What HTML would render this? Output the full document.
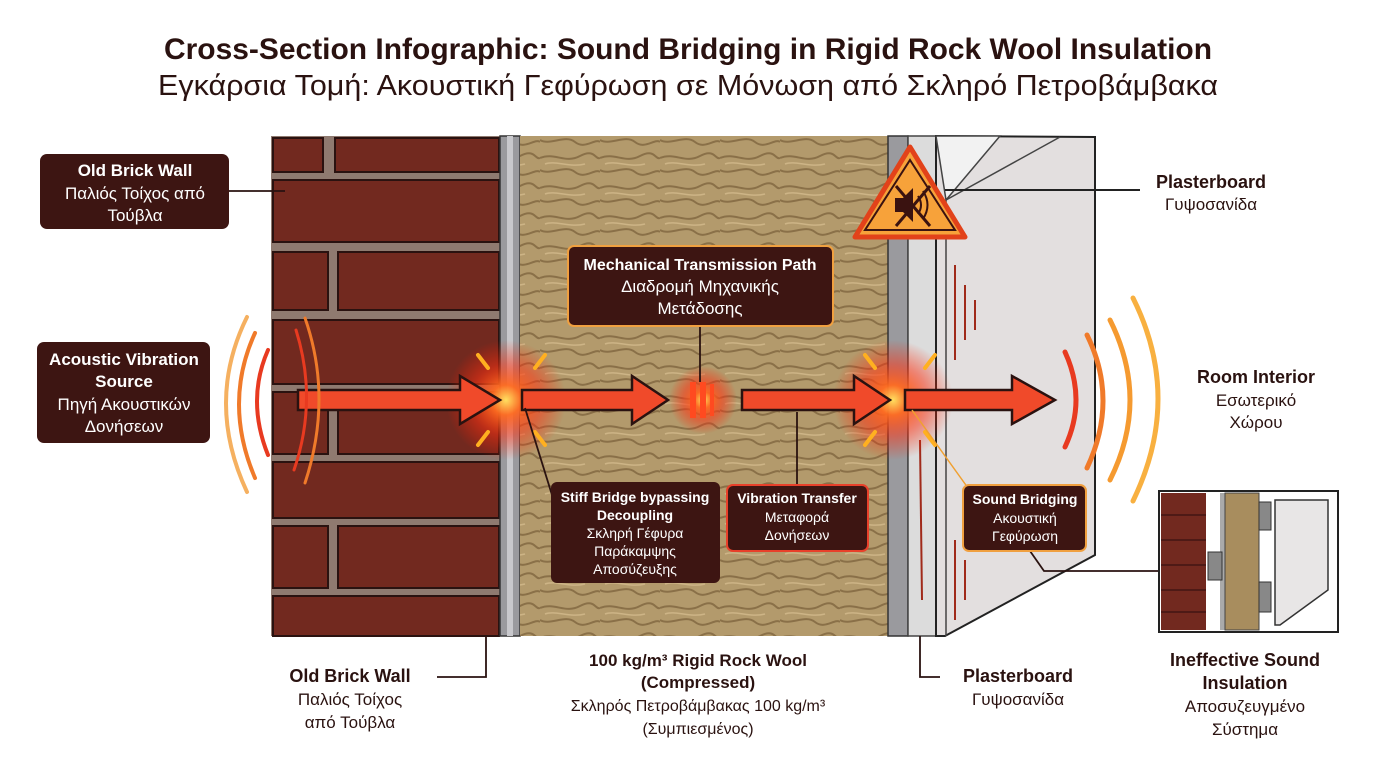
<!DOCTYPE html>
<html><head><meta charset="utf-8"><style>
body{margin:0;background:#fff}
svg{display:block}
text{font-family:"Liberation Sans",sans-serif}
</style></head><body>
<svg width="1376" height="768" viewBox="0 0 1376 768" xmlns="http://www.w3.org/2000/svg">
<defs>
<radialGradient id="glow"><stop offset="0" stop-color="#ffe060"/><stop offset="0.25" stop-color="#ff6a20" stop-opacity="0.95"/><stop offset="0.6" stop-color="#ff3010" stop-opacity="0.5"/><stop offset="1" stop-color="#ff2000" stop-opacity="0"/></radialGradient>
<pattern id="wool" width="60" height="30" patternUnits="userSpaceOnUse">
<rect width="60" height="30" fill="#b39a6c"/>
<path d="M0 8 C15 2 25 14 40 6 S55 10 60 8 M0 20 C10 26 25 14 35 22 S55 18 60 22" stroke="#8a7048" stroke-width="2" fill="none"/>
<path d="M5 14 C15 10 30 18 45 14" stroke="#cdb486" stroke-width="1.5" fill="none"/>
</pattern>
</defs>
<text x="688" y="59" text-anchor="middle" font-size="30" font-weight="bold" fill="#2a1210" textLength="1048" lengthAdjust="spacingAndGlyphs">Cross-Section Infographic: Sound Bridging in Rigid Rock Wool Insulation</text>
<text x="688" y="95" text-anchor="middle" font-size="29" fill="#2a1210" textLength="1060" lengthAdjust="spacingAndGlyphs">Εγκάρσια Τομή: Ακουστική Γεφύρωση σε Μόνωση από Σκληρό Πετροβάμβακα</text>

<!-- brick wall -->
<rect x="271" y="136" width="230" height="500" fill="#8f7a70"/>
<g fill="#72291f" stroke="#2a1210" stroke-width="2">
<rect x="273" y="138" width="50" height="34"/><rect x="335" y="138" width="164" height="34"/>
<rect x="273" y="180" width="226" height="62"/>
<rect x="273" y="252" width="55" height="58"/><rect x="338" y="252" width="161" height="58"/>
<rect x="273" y="320" width="226" height="64"/>
<rect x="273" y="392" width="55" height="62"/><rect x="338" y="392" width="161" height="62"/>
<rect x="273" y="462" width="226" height="56"/>
<rect x="273" y="526" width="55" height="62"/><rect x="338" y="526" width="161" height="62"/>
<rect x="273" y="596" width="226" height="40"/>
</g>
<rect x="500" y="136" width="20" height="500" fill="#9a9a9e" stroke="#333" stroke-width="1.5"/>
<rect x="507" y="136" width="6" height="500" fill="#c8c8cc"/>
<!-- wool -->
<rect x="520" y="136" width="368" height="500" fill="url(#wool)"/>
<!-- plaster strip -->
<rect x="888" y="136" width="20" height="500" fill="#9a9a9e" stroke="#333" stroke-width="1.5"/>
<rect x="908" y="136" width="28" height="500" fill="#dcdcdc" stroke="#444" stroke-width="1.5"/>
<!-- plasterboard panel -->
<polygon points="936,136 1095,137 1095,555 945,636 936,636" fill="#e3dfdf" stroke="#222" stroke-width="2"/>
<polygon points="936,136 1000,136 946,200" fill="#f2f2f2" stroke="#444" stroke-width="1.5"/>
<line x1="946" y1="200" x2="946" y2="636" stroke="#444" stroke-width="1.5"/>
<line x1="946" y1="200" x2="1060" y2="137" stroke="#444" stroke-width="1.5"/>
<g stroke="#a02a1a" stroke-width="2"><line x1="955" y1="265" x2="955" y2="360"/><line x1="965" y1="285" x2="965" y2="340"/><line x1="975" y1="300" x2="975" y2="330"/><line x1="955" y1="540" x2="955" y2="620"/><line x1="965" y1="560" x2="965" y2="600"/><line x1="920" y1="440" x2="922" y2="600"/></g>
<line x1="945" y1="190" x2="1140" y2="190" stroke="#222" stroke-width="2"/>

<!-- warning sign -->
<polygon points="910,147 965,237 855,237" fill="#f7a23a" stroke="#e2421a" stroke-width="5" stroke-linejoin="round"/>
<polygon points="910,160 955,230 865,230" fill="none" stroke="#3a1210" stroke-width="2"/>
<path d="M895 198 h8 l10 -10 v34 l-10 -10 h-8z" fill="#3a1210"/>
<path d="M918 196 q6 9 0 18 M923 191 q9 14 0 28" stroke="#3a1210" stroke-width="2" fill="none"/>
<line x1="896" y1="186" x2="930" y2="226" stroke="#3a1210" stroke-width="3"/><line x1="930" y1="186" x2="896" y2="226" stroke="#3a1210" stroke-width="3"/>

<!-- glows -->
<circle cx="506" cy="400" r="60" fill="url(#glow)"/>
<circle cx="893" cy="400" r="60" fill="url(#glow)"/>
<circle cx="703" cy="400" r="34" fill="url(#glow)"/>
<g stroke="#ffb020" stroke-width="4" stroke-linecap="round">
<line x1="478" y1="355" x2="488" y2="368"/><line x1="545" y1="355" x2="535" y2="368"/><line x1="478" y1="445" x2="488" y2="432"/><line x1="535" y1="432" x2="545" y2="445"/>
<line x1="865" y1="355" x2="875" y2="368"/><line x1="935" y1="355" x2="925" y2="368"/><line x1="865" y1="445" x2="875" y2="432"/><line x1="925" y1="432" x2="935" y2="445"/>
</g>
<g fill="#ff4a20"><rect x="690" y="382" width="6" height="36"/><rect x="700" y="382" width="6" height="36"/><rect x="710" y="384" width="4" height="32"/></g>

<!-- arrows -->
<g fill="#f04a2a" stroke="#2a1210" stroke-width="2.5" stroke-linejoin="miter">
<polygon points="298,390 460,390 460,376 500,400 460,424 460,410 298,410"/>
<polygon points="522,390 632,390 632,376 668,400 632,424 632,410 522,410"/>
<polygon points="742,390 854,390 854,376 890,400 854,424 854,410 742,410"/>
<polygon points="905,390 1012,390 1012,376 1055,400 1012,424 1012,410 905,410"/>
</g>

<!-- sound waves -->
<g fill="none" stroke-linecap="round" stroke-width="4">
<path d="M268 350 q-22 50 0 105" stroke="#e83a20"/>
<path d="M255 333 q-32 70 0 145" stroke="#f07a2a"/>
<path d="M247 317 q-42 85 0 175" stroke="#f5b060"/>
<path d="M296 330 q22 70 -2 140" stroke="#e83a20" stroke-width="3"/>
<path d="M305 318 q28 80 0 165" stroke="#f07a2a" stroke-width="3"/>
<path d="M1065 352 q22 48 0 95" stroke="#e83a20" stroke-width="5"/>
<path d="M1087 335 q32 65 0 133" stroke="#f07a2a" stroke-width="5"/>
<path d="M1133 298 q50 100 0 203" stroke="#f8b040" stroke-width="5"/>
<path d="M1110 320 q40 80 0 160" stroke="#f59a30" stroke-width="5"/>
</g>

<!-- leader lines -->
<g stroke="#2a1210" stroke-width="1.8" fill="none">
<line x1="229" y1="191" x2="285" y2="191"/>
<line x1="700" y1="326" x2="700" y2="382"/>
<line x1="797" y1="412" x2="797" y2="485"/>
<line x1="525" y1="408" x2="552" y2="495"/>
<polyline points="1030,551 1044,571 1158,571"/>
<polyline points="437,677 486,677 486,636"/>
<polyline points="940,677 920,677 920,636"/>
</g>
<line x1="912" y1="410" x2="968" y2="488" stroke="#f0a030" stroke-width="1.5"/>

<!-- boxes -->
<g>
<rect x="40" y="154" width="189" height="75" rx="7" fill="#3d1512"/>
<text x="135" y="176" text-anchor="middle" font-size="17" font-weight="bold" fill="#fff">Old Brick Wall</text>
<text x="135" y="199" text-anchor="middle" font-size="17" fill="#fff">Παλιός Τοίχος από</text>
<text x="135" y="221" text-anchor="middle" font-size="17" fill="#fff">Τούβλα</text>

<rect x="37" y="342" width="173" height="101" rx="7" fill="#3d1512"/>
<text x="124" y="365" text-anchor="middle" font-size="17" font-weight="bold" fill="#fff">Acoustic Vibration</text>
<text x="124" y="387" text-anchor="middle" font-size="17" font-weight="bold" fill="#fff">Source</text>
<text x="124" y="410" text-anchor="middle" font-size="17" fill="#fff">Πηγή Ακουστικών</text>
<text x="124" y="432" text-anchor="middle" font-size="17" fill="#fff">Δονήσεων</text>

<rect x="568" y="246" width="265" height="80" rx="6" fill="#3d1512" stroke="#f0a040" stroke-width="2"/>
<text x="700" y="270" text-anchor="middle" font-size="16" font-weight="bold" fill="#fff">Mechanical Transmission Path</text>
<text x="700" y="292" text-anchor="middle" font-size="17" fill="#fff">Διαδρομή Μηχανικής</text>
<text x="700" y="314" text-anchor="middle" font-size="17" fill="#fff">Μετάδοσης</text>

<rect x="551" y="482" width="169" height="101" rx="6" fill="#3d1512"/>
<text x="635" y="502" text-anchor="middle" font-size="14" font-weight="bold" fill="#fff">Stiff Bridge bypassing</text>
<text x="635" y="520" text-anchor="middle" font-size="14" font-weight="bold" fill="#fff">Decoupling</text>
<text x="635" y="538" text-anchor="middle" font-size="14" fill="#fff">Σκληρή Γέφυρα</text>
<text x="635" y="556" text-anchor="middle" font-size="14" fill="#fff">Παράκαμψης</text>
<text x="635" y="574" text-anchor="middle" font-size="14" fill="#fff">Αποσύζευξης</text>

<rect x="727" y="485" width="141" height="66" rx="6" fill="#3d1512" stroke="#e8402a" stroke-width="2"/>
<text x="797" y="503" text-anchor="middle" font-size="14" font-weight="bold" fill="#fff">Vibration Transfer</text>
<text x="797" y="522" text-anchor="middle" font-size="14" fill="#fff">Μεταφορά</text>
<text x="797" y="540" text-anchor="middle" font-size="14" fill="#fff">Δονήσεων</text>

<rect x="963" y="485" width="123" height="66" rx="6" fill="#3d1512" stroke="#f0a040" stroke-width="2"/>
<text x="1025" y="504" text-anchor="middle" font-size="14" font-weight="bold" fill="#fff">Sound Bridging</text>
<text x="1025" y="523" text-anchor="middle" font-size="14" fill="#fff">Ακουστική</text>
<text x="1025" y="541" text-anchor="middle" font-size="14" fill="#fff">Γεφύρωση</text>
</g>

<!-- plain labels -->
<g fill="#2a1210" text-anchor="middle">
<text x="1211" y="188" font-size="18" font-weight="bold">Plasterboard</text>
<text x="1211" y="210" font-size="17">Γυψοσανίδα</text>
<text x="1256" y="383" font-size="18" font-weight="bold">Room Interior</text>
<text x="1256" y="406" font-size="17">Εσωτερικό</text>
<text x="1256" y="428" font-size="17">Χώρου</text>
<text x="350" y="682" font-size="18" font-weight="bold">Old Brick Wall</text>
<text x="350" y="705" font-size="17">Παλιός Τοίχος</text>
<text x="350" y="728" font-size="17">από Τούβλα</text>
<text x="698" y="666" font-size="17" font-weight="bold">100 kg/m³ Rigid Rock Wool</text>
<text x="698" y="688" font-size="17" font-weight="bold">(Compressed)</text>
<text x="698" y="711" font-size="16">Σκληρός Πετροβάμβακας 100 kg/m³</text>
<text x="698" y="734" font-size="16">(Συμπιεσμένος)</text>
<text x="1018" y="682" font-size="18" font-weight="bold">Plasterboard</text>
<text x="1018" y="705" font-size="17">Γυψοσανίδα</text>
<text x="1245" y="666" font-size="18" font-weight="bold">Ineffective Sound</text>
<text x="1245" y="689" font-size="18" font-weight="bold">Insulation</text>
<text x="1245" y="712" font-size="17">Αποσυζευγμένο</text>
<text x="1245" y="735" font-size="17">Σύστημα</text>
</g>

<!-- inset -->
<rect x="1159" y="491" width="179" height="141" fill="#fff" stroke="#222" stroke-width="2"/>
<rect x="1161" y="493" width="45" height="137" fill="#72291f"/>
<g stroke="#3a1210" stroke-width="1.2"><line x1="1161" y1="515" x2="1206" y2="515"/><line x1="1161" y1="540" x2="1206" y2="540"/><line x1="1161" y1="565" x2="1206" y2="565"/><line x1="1161" y1="590" x2="1206" y2="590"/><line x1="1161" y1="612" x2="1206" y2="612"/></g>
<rect x="1220" y="493" width="5" height="137" fill="#aaa"/>
<rect x="1225" y="493" width="34" height="137" fill="#a88d5e" stroke="#444"/>
<rect x="1208" y="552" width="14" height="28" fill="#888" stroke="#333"/>
<rect x="1259" y="502" width="12" height="28" fill="#888" stroke="#333"/>
<rect x="1259" y="582" width="12" height="30" fill="#888" stroke="#333"/>
<polygon points="1275,500 1328,500 1328,590 1280,625 1275,625" fill="#e8e6e6" stroke="#333" stroke-width="1.5"/>
</svg>
</body></html>
